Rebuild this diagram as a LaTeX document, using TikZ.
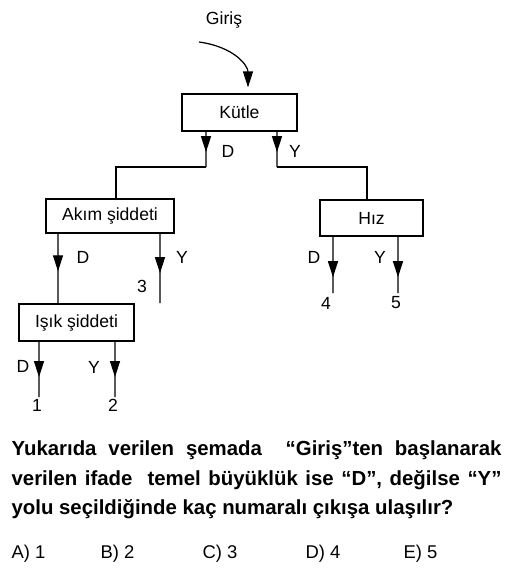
\documentclass[tikz,border=0pt]{standalone}
\usepackage{fontspec}
\setmainfont{Liberation Sans}
\usetikzlibrary{arrows.meta,decorations.markings,positioning}

\begin{document}
\begin{tikzpicture}[x=0.02cm,y=-0.02cm,line width=0.7pt,
    flow/.style={postaction={decorate},decoration={markings,
        mark=at position #1 with {\arrow{Triangle[length=3.2mm,width=2mm]}}}}]
    \useasboundingbox (0,0) rectangle (514,576);

    \begin{scope}[every node/.style={draw,rectangle,font=\fontsize{10}{12}\selectfont,minimum height=0.74cm}]
        %level 1
        \node[minimum width=2.3cm] (kutle) at (239.5,112.5) {Kütle};
        %level 2
        \node[minimum width=2.56cm,minimum height=0.68cm] (akim) at (110,216) {Akım şiddeti};
        \node[minimum width=2.06cm,minimum height=0.72cm] (hiz) at (371.5,218) {Hız};
        %level 3
        \node[minimum width=2.3cm] (isik) at (76.5,322.5) {Işık şiddeti};
    \end{scope}

    %free ends
    \coordinate (start) at (199,42);
    \coordinate (kutlejoin1) at (206,167);
    \coordinate (kutlejoin2) at (277,167);
    \coordinate (end1) at (39,397);
    \coordinate (end2) at (115,397);
    \coordinate (end3) at (160,303);
    \coordinate (end4) at (333,293);
    \coordinate (end5) at (398,293);

    %input
    \draw[-{Triangle[length=3.2mm,width=2mm]}] (start) .. controls (235,47) and (248,66) .. ([shift={(8.5,-6)}]kutle.north);

    %level 1
    \draw[flow=0.58] ([xshift=-0.67cm]kutle.south) -- (kutlejoin1);
    \draw (kutlejoin1) -| ([xshift=0.12cm]akim.north);
    \draw[flow=0.58] ([xshift=0.75cm]kutle.south) -- (kutlejoin2);
    \draw (kutlejoin2) -| ([xshift=-0.09cm]hiz.north);

    %level 2
    \draw[flow=0.54] ([xshift=-1.04cm]akim.south) -- ([xshift=-0.37cm]isik.north);
    \draw[flow=0.57] ([xshift=1cm]akim.south) -- (end3);
    \draw[flow=0.72] ([xshift=-0.77cm]hiz.south) -- (end4);
    \draw[flow=0.72] ([xshift=0.53cm]hiz.south) -- (end5);

    %level 3
    \draw[flow=0.64] ([xshift=-0.75cm]isik.south) -- (end1);
    \draw[flow=0.64] ([xshift=0.77cm]isik.south) -- (end2);

    %labels
    \begin{scope}[every node/.style={font=\fontsize{10}{12}\selectfont}]
        \node (giris) at (224,20) {Giriş};
        \node (kutleD) at (228,151) {D};
        \node (kutleY) at (295,151) {Y};
        \node (akimD) at (83,257) {D};
        \node (akimY) at (182,257) {Y};
        \node (isikD) at (23,366) {D};
        \node (isikY) at (94,367) {Y};
        \node (hizD) at (314,257) {D};
        \node (hizY) at (380,257) {Y};
        \node (num1) at (37,405) {1};
        \node (num2) at (113,405) {2};
        \node (num3) at (142,286) {3};
        \node (num4) at (326,303) {4};
        \node (num5) at (396,303) {5};
    \end{scope}

    %question
    \begin{scope}[every node/.style={anchor=base west,inner sep=0pt,font=\fontsize{11.6}{13}\selectfont\bfseries}]
        \node (soru1) at (11,455) {\makebox[9.8cm][s]{Yukarıda verilen şemada\ \ “Giriş”ten başlanarak}};
        \node (soru2) at (11,485) {\makebox[9.8cm][s]{verilen ifade\ \ temel büyüklük ise “D”, değilse “Y”}};
        \node (soru3) at (11,514) {yolu seçildiğinde kaç numaralı çıkışa ulaşılır?};
    \end{scope}

    %choices
    \begin{scope}[every node/.style={anchor=base west,inner sep=0pt,font=\fontsize{10.5}{12}\selectfont}]
        \node (secA) at (11,558) {A) 1};
        \node (secB) at (100,558) {B) 2};
        \node (secC) at (202,558) {C) 3};
        \node (secD) at (305,558) {D) 4};
        \node (secE) at (403,558) {E) 5};
    \end{scope}
\end{tikzpicture}
\end{document}
